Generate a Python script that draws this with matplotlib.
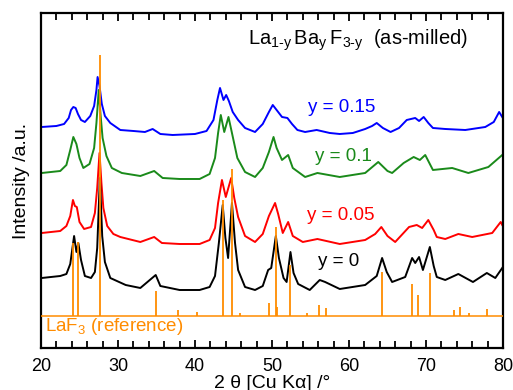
import matplotlib
matplotlib.use("Agg")
import matplotlib.pyplot as plt
from matplotlib.ticker import MultipleLocator

plt.rcParams['font.family'] = ['Liberation Sans', 'DejaVu Sans']
plt.rcParams['mathtext.fontset'] = 'custom'
plt.rcParams['mathtext.rm'] = 'Liberation Sans'

# 2theta (deg) and stacked intensity (a.u.)
x_015 = [20.1, 22.0, 23.0, 23.6, 23.9, 24.2, 24.5, 24.8, 25.2, 25.7, 26.4, 26.9, 27.2, 27.35,
         27.6, 27.9, 28.3, 29.0, 30.3, 32.0, 33.5, 34.5, 35.5, 37.1, 40.0, 41.5, 42.4, 42.9,
         43.25, 43.7, 44.05, 44.4, 44.9, 45.6, 46.5, 47.8, 48.8, 49.6, 50.1, 50.6, 51.3, 52.0,
         52.6, 53.3, 54.3, 55.8, 57.5, 58.8, 60.5, 62.1, 63.0, 63.6, 64.4, 65.4, 66.5, 67.5,
         68.6, 69.1, 69.7, 70.3, 70.9, 72.5, 75.1, 77.7, 78.8, 79.5, 79.9]
y_015 = [221, 222, 224, 230, 238, 241, 240, 234, 228, 226, 232, 242, 258, 271,
         262, 244, 232, 225, 218, 217, 216, 219, 214, 213, 214, 217, 228, 248,
         260, 248, 253, 247, 236, 228, 220, 216, 224, 236, 243, 238, 231, 230,
         224, 218, 216, 218, 215, 214, 215, 219, 222, 225, 220, 216, 220, 228,
         230, 227, 231, 225, 220, 219, 218, 221, 226, 236, 231]

x_010 = [20.1, 22.5, 23.3, 23.8, 24.2, 24.6, 25.0, 25.5, 26.3, 26.9, 27.2, 27.5, 27.75, 28.0,
         28.5, 29.2, 30.5, 32.9, 34.7, 35.8, 38.0, 40.6, 41.9, 42.6, 43.0, 43.35, 43.8, 44.35,
         44.8, 45.5, 46.5, 47.8, 48.8, 49.6, 50.2, 50.6, 51.3, 52.1, 52.7, 54.3, 55.9, 58.8,
         62.1, 63.8, 65.0, 65.6, 67.1, 68.4, 69.2, 69.9, 70.9, 73.4, 75.5, 78.1, 79.9]
y_010 = [175, 177, 183, 198, 211, 204, 190, 180, 184, 200, 225, 258, 232, 210,
         192, 180, 175, 172, 177, 170, 169, 169, 174, 190, 215, 233, 216, 231,
         215, 190, 176, 171, 180, 196, 211, 200, 188, 193, 180, 171, 175, 171,
         175, 186, 177, 175, 185, 191, 188, 193, 178, 180, 175, 181, 193]

x_005 = [20.1, 22.5, 23.3, 23.8, 24.15, 24.4, 24.65, 25.0, 25.6, 26.5, 27.0, 27.3, 27.6, 27.85,
         28.1, 28.6, 29.4, 30.3, 32.9, 34.7, 35.7, 38.0, 40.6, 41.9, 42.6, 43.0, 43.5, 44.0,
         44.7, 45.1, 45.6, 46.5, 47.8, 48.8, 49.6, 50.4, 50.8, 51.4, 52.1, 52.7, 54.0, 55.9,
         58.8, 62.1, 63.4, 64.2, 65.0, 66.0, 67.8, 68.8, 69.5, 70.3, 71.0, 71.4, 72.5, 74.2,
         76.0, 78.6, 79.7, 79.9]
y_005 = [115, 117, 122, 132, 148, 142, 141, 126, 119, 121, 135, 160, 195, 165,
         140, 122, 114, 111, 106, 111, 105, 104, 104, 108, 120, 145, 168, 151,
         170, 150, 131, 112, 106, 114, 132, 145, 134, 115, 126, 112, 106, 109,
         104, 108, 114, 121, 112, 106, 121, 123, 120, 128, 118, 111, 109, 114,
         111, 115, 126, 123]

x_000 = [20.1, 22.5, 23.3, 23.8, 24.3, 24.6, 24.85, 25.2, 25.7, 26.5, 27.0, 27.3, 27.65, 27.95,
         28.3, 29.0, 31.0, 32.9, 34.9, 35.5, 38.0, 40.6, 41.9, 42.6, 43.1, 43.6, 43.95, 44.3,
         44.8, 45.2, 45.6, 46.5, 47.8, 48.8, 49.5, 49.9, 50.5, 50.9, 51.5, 51.9, 52.4, 52.8,
         53.4, 54.9, 56.2, 56.9, 58.8, 62.1, 63.6, 64.3, 64.9, 65.6, 67.3, 68.2, 68.6, 69.1,
         69.6, 70.5, 71.0, 71.4, 72.5, 74.2, 76.1, 77.9, 79.0, 79.9]
y_000 = [70, 72, 74, 84, 112, 96, 105, 88, 72, 70, 76, 100, 170, 112,
         86, 70, 63, 60, 73, 62, 58, 58, 61, 72, 105, 143, 110, 90,
         145, 105, 78, 61, 58, 62, 78, 80, 112, 90, 70, 66, 96, 75,
         64, 58, 68, 66, 59, 63, 72, 90, 76, 66, 71, 90, 85, 91,
         78, 101, 82, 71, 68, 74, 66, 75, 70, 80]

# LaF3 reference pattern: peak positions and stick tops
ref_base = 32
ref_pos = [24.2, 24.8, 27.6, 34.9, 37.8, 40.3, 43.6, 44.8, 45.8, 49.6, 50.5, 50.7,
           52.4, 54.5, 56.1, 57.0, 64.3, 68.2, 69.0, 70.5, 73.6, 74.4, 75.6, 77.9]
ref_top = [105, 106, 293, 57, 38, 36, 148, 179, 35, 45, 121, 41,
           83, 35, 43, 40, 76, 64, 53, 75, 38, 41, 35, 39]

series = [
    (x_015, y_015, '#0000ff', 'y = 0.15', (54.7, 240)),
    (x_010, y_010, '#1a8a1a', 'y = 0.1', (55.6, 191)),
    (x_005, y_005, '#ff0000', 'y = 0.05', (54.5, 132)),
    (x_000, y_000, '#000000', 'y = 0', (56.0, 86)),
]
orange = '#ff8c00'

fig = plt.figure(figsize=(5.13, 3.90), dpi=100)
ax = fig.add_axes([0.0799, 0.1077, 0.9006, 0.859])

for xs, ys, c, lab, (tx, ty) in series:
    ax.plot(xs, ys, color=c, lw=1.4)
    ax.text(tx, ty, lab, color=c, fontsize=13.5, va='center', ha='left')

ax.hlines(ref_base, 20, 80, color=orange, lw=1.1, zorder=5)
ax.vlines(ref_pos, ref_base, ref_top, color=orange, lw=1.3, zorder=5)
ax.text(20.5, 21, r'LaF$_{\mathregular{3}}$ (reference)', color=orange,
        fontsize=13.5, va='center', ha='left')

ax.text(46.9, 303,
        r'La$_{\text{1-y}}\,$Ba$_{\text{y}}\,$F$_{\text{3-y}}\;$ (as-milled)',
        fontsize=14.5, va='baseline', ha='left')

ax.set_xlim(20, 80)
ax.set_ylim(0, 335)
ax.xaxis.set_major_locator(MultipleLocator(10))
ax.xaxis.set_minor_locator(MultipleLocator(2))
ax.tick_params(axis='x', which='both', direction='in', top=True, width=1.3,
               labelsize=13, pad=7)
ax.tick_params(axis='x', which='major', length=6)
ax.tick_params(axis='x', which='minor', length=5)
ax.set_yticks([])
for s in ax.spines.values():
    s.set_linewidth(1.6)

ax.set_xlabel('2 θ [Cu Kα] /°', fontsize=14, labelpad=0)
ax.set_ylabel('Intensity /a.u.', fontsize=14, labelpad=8)

fig.savefig('out.png', dpi=100)
